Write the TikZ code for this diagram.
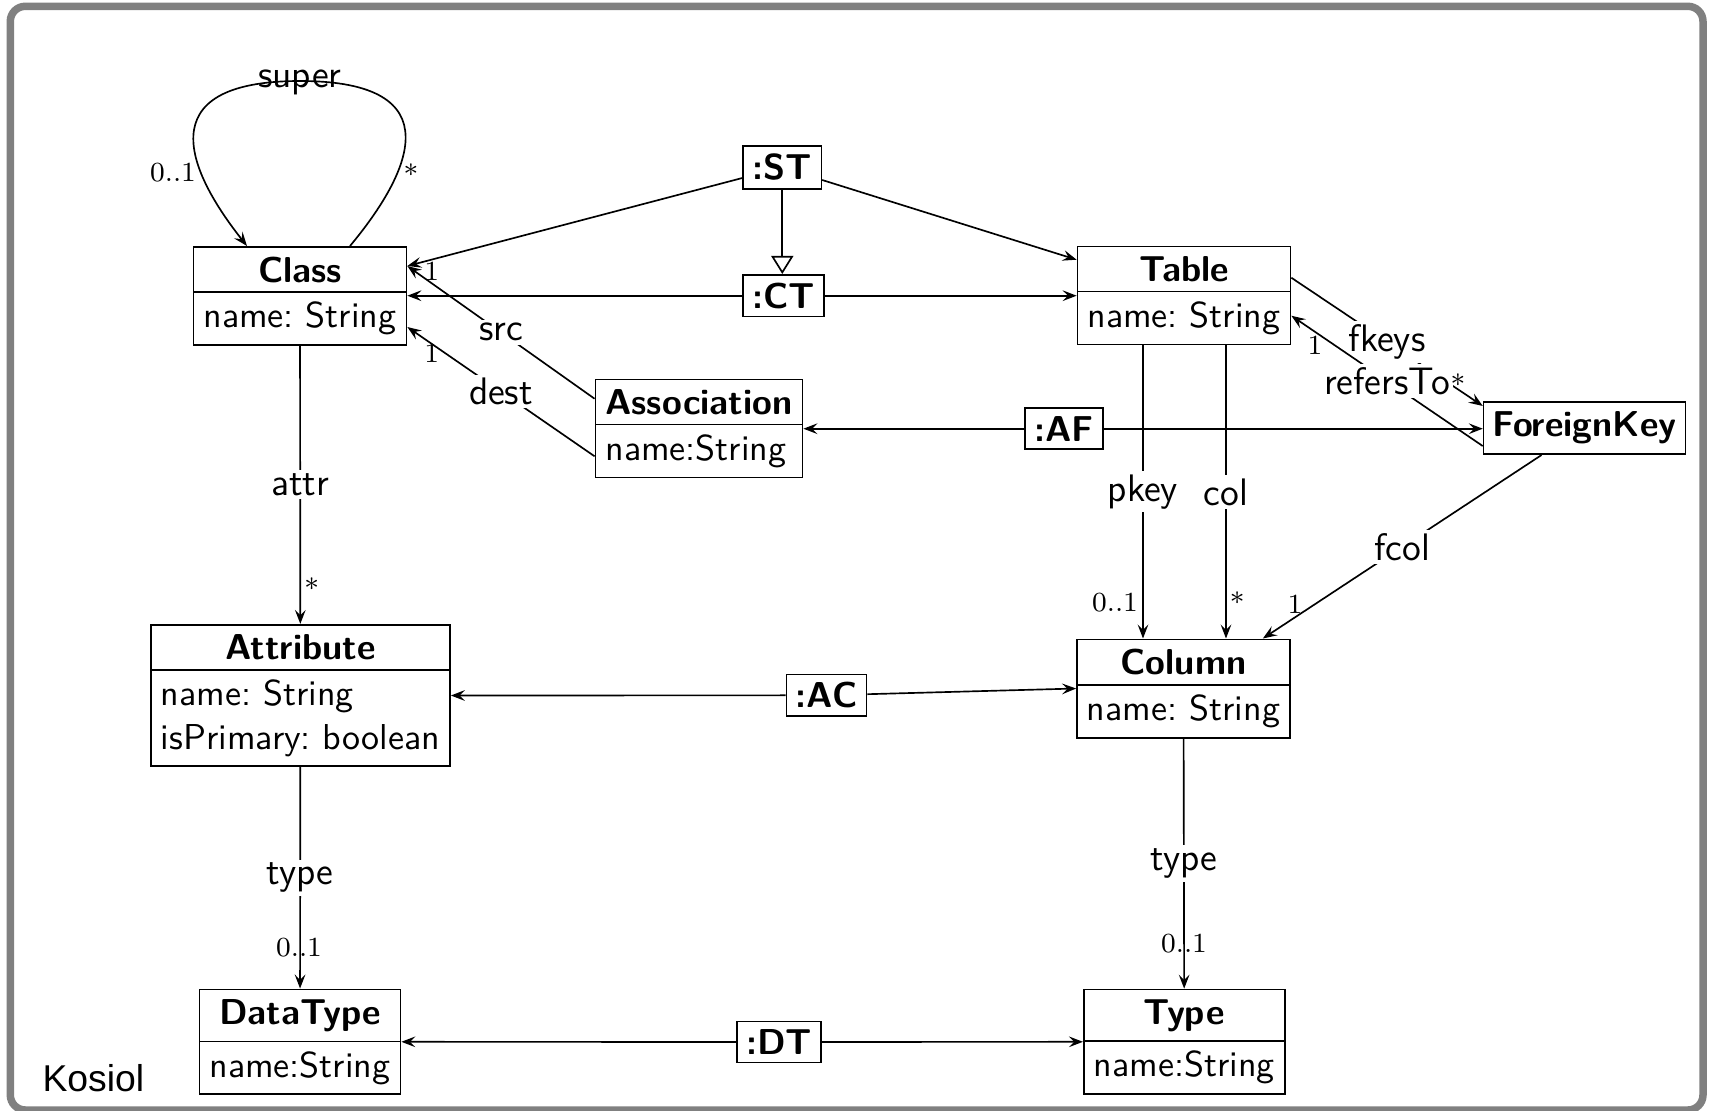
\documentclass[tikz,border=0pt]{standalone}
\usepackage{fontspec}
\newfontfamily\kosfont{Liberation Sans}
\usetikzlibrary{shapes.multipart,arrows.meta,calc}
\frenchspacing

\tikzset{every picture/.style={line width=0.5pt}}
\tikzset{
  >={Stealth[length=4.2pt,width=3.2pt,inset=1.6pt]},
  umlclass/.style={draw, rectangle split, rectangle split parts=2, rectangle split part align={center,left}, align=left, inner xsep=3pt, inner ysep=2.7pt, font=\sffamily\fontsize{10.8}{13.1}\selectfont},
  umlsingle/.style={draw, inner xsep=2.6pt, inner ysep=3pt, font=\sffamily\bfseries\fontsize{10.8}{13.1}\selectfont},
  corrbox/.style={draw, inner xsep=2.8pt, inner ysep=2.4pt, font=\sffamily\bfseries\fontsize{10.8}{13.1}\selectfont},
  rolelbl/.style={fill=white, inner sep=1pt, font=\sffamily\fontsize{11.5}{13}\selectfont},
  multlbl/.style={inner sep=0pt, font=\fontsize{8.3}{10}\selectfont},
}

\begin{document}
\begin{tikzpicture}[x=0.3pt,y=0.3pt,yscale=-1,xscale=1]
\useasboundingbox (0,0) rectangle (1713,1111);

%Shape: Frame
\draw [color={rgb, 255:red, 128; green, 128; blue, 128 }, line width=2.25pt, rounded corners=4.5pt] (10.3,6.3) rectangle (1703,1110);

% Class Nodes
\node [umlclass] (cls) at (300,296) {\textbf{Class}\nodepart{two}name: String};
\node [umlclass] (tbl) at (1184,295.5) {\textbf{Table}\nodepart{two}name: String};
\node [umlclass] (assoc) at (699,428.5) {\textbf{Association}\nodepart{two}name:String};
\node [umlsingle] (fk) at (1584.5,428) {ForeignKey};
\node [umlclass] (attr) at (300.4,695.5) {\textbf{Attribute}\nodepart{two}name: String\\isPrimary: boolean};
\node [umlclass] (col) at (1183.5,688.5) {\textbf{Column}\nodepart{two}name: String};
\node [umlclass] (dt) at (300,1041.8) {\textbf{DataType}\nodepart{two}name:String};
\node [umlclass] (typ) at (1184.3,1041.8) {\textbf{Type}\nodepart{two}name:String};

% Correspondence Nodes
\node [corrbox] (st) at (782.3,167.5) {:ST};
\node [corrbox] (ct) at (783.5,295.7) {:CT};
\node [corrbox] (af) at (1064,428.7) {:AF};
\node [corrbox] (ac) at (826.5,695.3) {:AC};
\node [corrbox] (dtc) at (779,1042) {:DT};

%Curve Lines: super
\draw [->] ($(cls.north)+(50,0)$) .. controls ($(cls.north)+(110,-72)$) and ($(cls.north)+(155,-165)$) .. ($(cls.north)+(0,-165)$) node [rolelbl, fill=none, anchor=base, yshift=-2pt] (lsup) {super} .. controls ($(cls.north)+(-155,-165)$) and ($(cls.north)+(-110,-72)$) .. ($(cls.north)+(-53,0)$);

%Straight Lines: correspondences
\draw [->] (st) -- ($(cls.north east)+(0,20)$);
\draw [->] (st) -- ($(tbl.north west)+(0,14)$);
\draw [-{Triangle[open,length=5.4pt,width=6.6pt]}] (st.south) -- (st.south |- ct.north);
\draw [->] (ct) -- (cls.east |- ct);
\draw [->] (ct) -- (tbl.west |- ct);
\draw [->] (af) -- (assoc.east |- af);
\draw [->] (af) -- (fk.west |- af);
\draw [->] (ac) -- (attr.east);
\draw [->] (ac) -- (col.west);
\draw [->] (dtc) -- (dt.east);
\draw [->] (dtc) -- (typ.west);

%Straight Lines: references
\draw [->] ($(assoc.north west)+(0,20)$) -- node [rolelbl] (lsrc) {src} ($(cls.north east)+(0,20)$);
\draw [->] ($(assoc.south west)+(0,-22)$) -- node [rolelbl] (ldest) {dest} ($(cls.south east)+(0,-19)$);
\draw [->] (cls) -- node [rolelbl] (lattr) {attr} (attr);
\draw [->] (attr) -- node [rolelbl] (latype) {type} (dt);
\draw [->] (col) -- node [rolelbl] (lctype) {type} (typ);
\coordinate (pk) at ($(tbl.south)+(-41,0)$);
\coordinate (cl) at ($(tbl.south)+(42,0)$);
\draw [->] (pk) -- node [rolelbl] (lpkey) {pkey} (pk |- col.north);
\draw [->] (cl) -- node [rolelbl] (lcol) {col} (cl |- col.north);
\draw [->] ($(fk.south)+(-43,0)$) -- node [rolelbl] (lfcol) {fcol} ($(col.north east)+(-28,0)$);
\draw [->] ($(tbl.north east)+(0,32)$) -- node [rolelbl] (lfkeys) {fkeys} ($(fk.north west)+(0,5)$);
\draw [->] ($(fk.south west)+(0,-9)$) -- node [rolelbl] (lrefers) {refersTo} ($(tbl.north east)+(0,70)$);

% Text Node: multiplicities
\node [multlbl] (msup) at (173,173) {0..1};
\node [multlbl] (msub) at (411,174) {*};
\node [multlbl] (msrc) at (431.7,271.7) {1};
\node [multlbl] (mdest) at (431.7,353) {1};
\node [multlbl] (mattr) at (311.7,588) {*};
\node [multlbl] (matype) at (299,948) {0..1};
\node [multlbl] (mctype) at (1184,944) {0..1};
\node [multlbl] (mpkey) at (1115,603) {0..1};
\node [multlbl] (mcol) at (1237.3,602) {*};
\node [multlbl] (mfcol) at (1295,604) {1};
\node [multlbl] (mref) at (1315,345) {1};
\node [multlbl] (mfkeys) at (1458,384) {*};

% Text Node
\node [anchor=base west, inner sep=0pt, font=\kosfont\fontsize{11.2}{13}\selectfont] (kos) at (41.7,1091.7) {Kosiol};

\end{tikzpicture}
\end{document}
